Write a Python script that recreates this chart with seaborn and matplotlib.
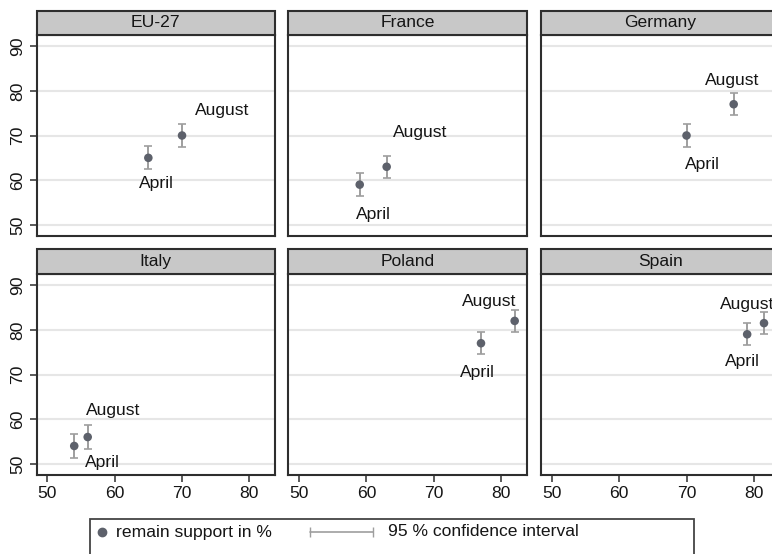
import numpy as np
import pandas as pd
import matplotlib
matplotlib.use("Agg")
import matplotlib.pyplot as plt
from matplotlib.patches import Rectangle
from matplotlib.lines import Line2D
import seaborn as sns

# Remain support (%) by country, April and August, with 95 % CI half-widths
countries = ["EU-27", "France", "Germany", "Italy", "Poland", "Spain"]
april = [65, 59, 70, 54, 77, 79]
august = [70, 63, 77, 56, 82, 81.5]
april_ci = [2.6, 2.5, 2.5, 2.6, 2.5, 2.5]
august_ci = [2.5, 2.5, 2.5, 2.6, 2.5, 2.5]
months = ["April", "August"]
ticks = [50, 60, 70, 80, 90]

# label placement (offset from the point, in data units)
april_off = [(1.2, -5.8), (2.1, -6.7), (2.4, -6.6), (4.2, -3.8), (-0.5, -6.6), (-0.7, -6.2)]
august_off = [(5.9, 5.7), (4.9, 7.6), (-0.2, 5.4), (3.8, 5.9), (-3.8, 4.3), (-2.5, 4.1)]

rows = []
for i, c in enumerate(countries):
    rows.append(dict(country=c, month="April", value=april[i], ci=april_ci[i],
                     dx=april_off[i][0], dy=april_off[i][1]))
    rows.append(dict(country=c, month="August", value=august[i], ci=august_ci[i],
                     dx=august_off[i][0], dy=august_off[i][1]))
df = pd.DataFrame(rows)

sns.set_theme(style="white")
plt.rcParams["font.family"] = ["Liberation Sans", "DejaVu Sans"]

FS = 12.6
MARK = "#5d616b"
CI = "#9e9e9e"
FRAME = "#2e2e2e"
STRIP = "#c8c8c8"
GRID = "#e6e6e6"
TXT = "#151515"

W, H = 772, 554
g = sns.FacetGrid(df, col="country", col_wrap=3, col_order=countries,
                  sharex=True, sharey=True, height=2.5, aspect=1.0, despine=False)
g.figure.set_size_inches(W / 100, H / 100)
g.figure.set_dpi(100)


def draw(data, **kws):
    ax = plt.gca()
    ax.errorbar(data["value"], data["value"], yerr=data["ci"], fmt="none",
                ecolor=CI, elinewidth=1.4, capsize=3.2, capthick=1.2, zorder=3)
    sns.scatterplot(data=data, x="value", y="value", color=MARK, s=38,
                    edgecolor="none", ax=ax, zorder=4)
    for _, r in data.iterrows():
        ax.text(r["value"] + r["dx"], r["value"] + r["dy"], r["month"],
                ha="center", va="center", fontsize=FS, color=TXT, zorder=5)


g.map_dataframe(draw)

# panel geometry in pixels
col_left = [36.5, 288.3, 541.0]
panel_w = 238.5
row_bottom = [236.0, 475.0]
panel_h = 201.0
strip_h = 24.5

for k, ax in enumerate(g.axes.flat):
    r, c = divmod(k, 3)
    ax.set_position([col_left[c] / W, 1 - row_bottom[r] / H, panel_w / W, panel_h / H])
    ax.set_xlim(48.4, 83.8)
    ax.set_ylim(47.5, 92.5)
    ax.set_xticks(ticks[:4])
    ax.set_yticks(ticks)
    ax.set_title("")
    ax.set_xlabel("")
    ax.set_ylabel("")
    for y in ticks:
        ax.axhline(y, color=GRID, lw=1.5, zorder=1)
    for s in ax.spines.values():
        s.set_color(FRAME)
        s.set_linewidth(1.5)
        s.set_visible(True)
    ax.tick_params(axis="both", direction="out", length=5, width=1.1, color=FRAME,
                   labelsize=FS, labelcolor=TXT, pad=3,
                   bottom=(r == 1), left=(c == 0),
                   labelbottom=(r == 1), labelleft=(c == 0))
    if c == 0:
        for lab in ax.get_yticklabels():
            lab.set_rotation(90)
            lab.set_va("center")
    # gray header strip with the country name
    hh = strip_h / panel_h
    ax.add_patch(Rectangle((0, 1), 1, hh, transform=ax.transAxes, clip_on=False,
                           facecolor=STRIP, edgecolor=FRAME, lw=1.5, zorder=6))
    ax.text(0.5, 1 + hh / 2, countries[k], transform=ax.transAxes, ha="center",
            va="center", fontsize=FS, color=TXT, zorder=7)

# legend box below the panels
fig = g.figure
fig.add_artist(Rectangle((90 / W, 1 - 590 / H), (694 - 90) / W, (590 - 519) / H,
                         transform=fig.transFigure, facecolor="white",
                         edgecolor="#444444", lw=1.3))
ly = 1 - 532 / H
fig.add_artist(Line2D([101.7 / W], [ly], marker="o", color=MARK, markersize=6,
                      ls="none", transform=fig.transFigure))
fig.text(116 / W, ly, "remain support in %", ha="left", va="center",
         fontsize=FS, color=TXT)
fig.add_artist(Line2D([310 / W, 373 / W], [ly, ly], color=CI, lw=1.2,
                      marker="|", markersize=7, transform=fig.transFigure))
fig.text(388 / W, ly, "95 % confidence interval", ha="left", va="center",
         fontsize=FS, color=TXT)

fig.savefig("out.png", dpi=100)
